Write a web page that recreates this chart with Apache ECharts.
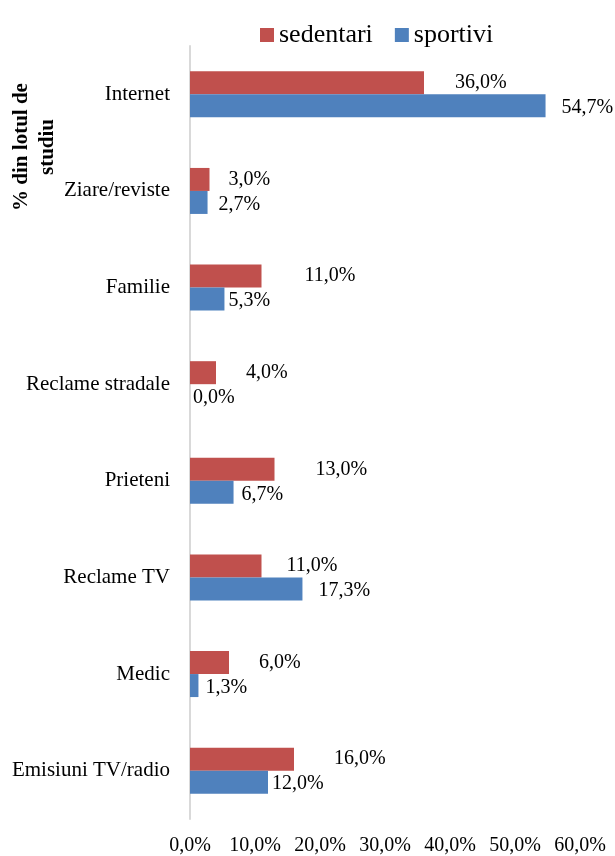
<!DOCTYPE html>
<html>
<head>
<meta charset="utf-8">
<script src="https://cdn.jsdelivr.net/npm/echarts@6/dist/echarts.min.js"></script>
<style>
  html, body { margin: 0; padding: 0; background: #fff; }
  #chart { width: 615px; height: 856px; }
</style>
</head>
<body>
<div id="chart"></div>
<script>
// Information sources, share of each study group (%)
const categories = ['Internet', 'Ziare/reviste', 'Familie', 'Reclame stradale', 'Prieteni', 'Reclame TV', 'Medic', 'Emisiuni TV/radio'];
const sedentari = [36.0, 3.0, 11.0, 4.0, 13.0, 11.0, 6.0, 16.0];
const sportivi = [54.7, 2.7, 5.3, 0.0, 6.7, 17.3, 1.3, 12.0];
const xTicks = [0, 10, 20, 30, 40, 50, 60];

// gap between each bar end and its value label
const sedentariLabelGap = [31, 19, 43, 30, 41, 25, 30, 40];
const sportiviLabelGap = [16, 11, 4, 3, 8, 16, 7, 4];

const SERIF = '"Liberation Serif", "Times New Roman", serif';
const pct = v => v.toFixed(1).replace('.', ',') + '%';

function items(values, gaps) {
  return values.map((v, i) => ({ value: v, label: { distance: gaps[i] } }));
}

const chart = echarts.init(document.getElementById('chart'), null, { renderer: 'canvas' });

chart.setOption({
  animation: false,
  backgroundColor: '#ffffff',
  textStyle: { fontFamily: SERIF },
  legend: {
    top: 17,
    left: 255,
    itemWidth: 14,
    itemHeight: 14,
    itemGap: 22,
    icon: 'rect',
    textStyle: { fontFamily: SERIF, fontSize: 26, color: '#000', padding: [0, 0, 0, 0] },
    data: ['sedentari', 'sportivi']
  },
  grid: { left: 190, right: 35, top: 46, bottom: 36, containLabel: false },
  xAxis: {
    type: 'value',
    min: xTicks[0],
    max: xTicks[xTicks.length - 1],
    interval: xTicks[1] - xTicks[0],
    axisLine: { show: false },
    axisTick: { show: false },
    splitLine: { show: false },
    axisLabel: {
      margin: 17,
      fontFamily: SERIF,
      fontSize: 20,
      color: '#000',
      formatter: v => pct(v)
    }
  },
  yAxis: {
    type: 'category',
    inverse: true,
    data: categories,
    axisLine: { show: true, lineStyle: { color: '#d9d9d9', width: 2 } },
    axisTick: { show: false },
    axisLabel: { margin: 20, fontFamily: SERIF, fontSize: 21, color: '#000' }
  },
  graphic: [{
    type: 'text',
    x: 35,
    y: 147,
    rotation: Math.PI / 2,
    style: {
      text: '% din lotul de\nstudiu',
      font: 'bold 21px ' + SERIF,
      fill: '#000',
      textAlign: 'center',
      textVerticalAlign: 'middle',
      lineHeight: 26
    }
  }],
  series: [
    {
      name: 'sedentari',
      type: 'bar',
      barWidth: 23,
      barGap: '0%',
      itemStyle: { color: '#C0504D' },
      label: {
        show: true,
        position: 'right',
        offset: [0, 0],
        fontFamily: SERIF,
        fontSize: 20,
        color: '#000',
        formatter: p => pct(p.value)
      },
      data: items(sedentari, sedentariLabelGap)
    },
    {
      name: 'sportivi',
      type: 'bar',
      barWidth: 23,
      barGap: '0%',
      itemStyle: { color: '#4F81BD' },
      label: {
        show: true,
        position: 'right',
        offset: [0, 2],
        fontFamily: SERIF,
        fontSize: 20,
        color: '#000',
        formatter: p => pct(p.value)
      },
      data: items(sportivi, sportiviLabelGap)
    }
  ]
});
</script>
</body>
</html>
